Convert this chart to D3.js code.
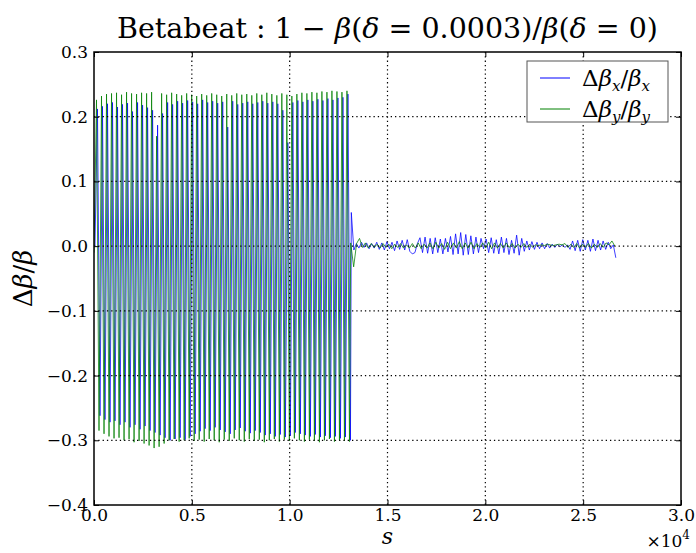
<!DOCTYPE html>
<html>
<head>
<meta charset="utf-8">
<script src="https://cdn.jsdelivr.net/npm/d3@7"></script>
<style>
  body { margin: 0; background: #fff; }
</style>
</head>
<body>
<script>
const width = 696;
const height = 553;
const serif = "DejaVu Serif";

// sampling grids (s in metres) for each segment
const blueBigStart = 50, greenBigStart = 0, bigStep = 128;
const blueSmallStart = 13150, blueSmallStep = 130;
const greenSmallStart = 13120, greenSmallStep = 150;

// large betabeat before s ~ 1.31e4: successive peaks and troughs
const blueStartValue = 0.0;
const bluePeaks = [
  0.212, 0.216, 0.220, 0.222, 0.215, 0.219, 0.221, 0.208, 0.222, 0.218,
  0.214, 0.210, 0.187, 0.205, 0.222, 0.219, 0.224, 0.221, 0.225, 0.223,
  0.220, 0.226, 0.222, 0.224, 0.221, 0.223, 0.184, 0.224, 0.219, 0.221,
  0.223, 0.220, 0.222, 0.224, 0.221, 0.223, 0.220, 0.210, 0.160, 0.222,
  0.225, 0.223, 0.226, 0.224, 0.227, 0.225, 0.228, 0.226, 0.229, 0.230, 0.235];
const blueTroughs = [
  -0.262, -0.268, -0.272, -0.270, -0.276, -0.272, -0.280, -0.276, -0.283, -0.278,
  -0.285, -0.288, -0.292, -0.296, -0.300, -0.298, -0.296, -0.299, -0.294, -0.290,
  -0.286, -0.282, -0.285, -0.280, -0.284, -0.287, -0.290, -0.284, -0.281, -0.286,
  -0.289, -0.285, -0.288, -0.292, -0.290, -0.294, -0.291, -0.295, -0.293, -0.288,
  -0.290, -0.292, -0.294, -0.291, -0.295, -0.293, -0.296, -0.294, -0.297, -0.295, -0.300];

const greenStartValue = -0.01;
const greenPeaks = [
  0.226, 0.232, 0.235, 0.236, 0.237, 0.234, 0.238, 0.236, 0.235, 0.237,
  0.236, 0.238, 0.170, 0.236, 0.234, 0.237, 0.235, 0.233, 0.236, 0.234,
  0.232, 0.235, 0.233, 0.236, 0.234, 0.232, 0.235, 0.233, 0.236, 0.234,
  0.235, 0.233, 0.236, 0.234, 0.237, 0.235, 0.233, 0.236, 0.234, 0.232,
  0.235, 0.237, 0.236, 0.238, 0.237, 0.239, 0.238, 0.240, 0.239, 0.238, 0.240];
const greenTroughs = [
  -0.285, -0.290, -0.294, -0.297, -0.296, -0.300, -0.298, -0.303, -0.301, -0.305,
  -0.308, -0.312, -0.310, -0.305, -0.300, -0.298, -0.302, -0.300, -0.297, -0.301,
  -0.299, -0.302, -0.298, -0.300, -0.303, -0.299, -0.301, -0.297, -0.300, -0.302,
  -0.298, -0.301, -0.299, -0.303, -0.300, -0.298, -0.302, -0.299, -0.301, -0.297,
  -0.300, -0.302, -0.299, -0.301, -0.303, -0.300, -0.298, -0.302, -0.300, -0.301, -0.302];

// small residual after s ~ 1.31e4
const blueSmall = [
  0.052, -0.006, 0.004, -0.003, 0.006, -0.002, 0.005, -0.004, 0.004, -0.003,
  0.006, -0.005, 0.005, -0.006, 0.007, -0.004, 0.006, -0.007, 0.008, -0.005,
  0.009, -0.006, 0.010, -0.008, -0.012, -0.010, 0.004, 0.013, -0.010, 0.014,
  -0.011, 0.012, -0.012, 0.013, -0.010, 0.011, -0.012, 0.012, -0.009, 0.015,
  -0.013, 0.019, -0.012, 0.021, -0.014, 0.018, -0.013, 0.016, -0.012, 0.014,
  -0.010, 0.012, -0.004, 0.011, -0.010, 0.013, -0.011, 0.010, -0.012, 0.014,
  -0.010, 0.012, -0.013, 0.009, -0.011, 0.017, -0.014, 0.012, -0.008, 0.008,
  -0.006, 0.007, -0.005, 0.006, -0.004, 0.005, -0.004, 0.004, -0.003, 0.003,
  -0.002, 0.003, -0.001, 0.002, -0.002, 0.002, -0.005, 0.008, -0.007, 0.009,
  -0.008, 0.010, -0.006, 0.009, -0.008, 0.011, -0.007, 0.009, -0.006, 0.008,
  -0.005, 0.006, -0.004, 0.002, -0.018];

const greenSmall = [
  0.005, -0.032, 0.004, 0.012, -0.002, 0.005, -0.003, 0.004, -0.002, 0.003,
  -0.003, 0.004, -0.002, 0.003, -0.004, 0.003, -0.002, 0.004, -0.003, 0.002,
  -0.003, 0.004, -0.003, 0.005, -0.004, 0.003, -0.003, 0.005, -0.004, 0.006,
  -0.003, 0.004, -0.005, 0.006, -0.004, 0.005, -0.003, 0.007, -0.004, 0.005,
  -0.003, 0.006, -0.004, 0.004, -0.002, 0.005, -0.003, 0.006, -0.004, 0.005,
  -0.003, 0.004, -0.003, 0.005, -0.002, 0.004, -0.003, 0.003, -0.002, 0.004,
  -0.002, 0.003, -0.002, 0.002, 0.001, 0.002, 0.001, 0.003, 0.002, 0.001,
  0.002, 0.003, 0.002, 0.004, -0.002, 0.003, -0.002, 0.004, -0.003, 0.003,
  -0.002, 0.004, -0.003, 0.003, -0.002, 0.004, -0.002, 0.005, 0.002, 0.008,
  0.0];

const xTicks = [0, 5000, 10000, 15000, 20000, 25000, 30000];
const yTicks = [-0.4, -0.3, -0.2, -0.1, 0.0, 0.1, 0.2, 0.3];

const bigPoints = (start, first, peaks, troughs) => {
  const pts = [[start, first]];
  peaks.forEach((p, k) => {
    pts.push([start + (2 * k + 1) * bigStep, p]);
    pts.push([start + (2 * k + 2) * bigStep, troughs[k]]);
  });
  return pts;
};
const smallPoints = (start, step, vals) => vals.map((v, i) => [start + i * step, v]);

const blueData = bigPoints(blueBigStart, blueStartValue, bluePeaks, blueTroughs)
  .concat(smallPoints(blueSmallStart, blueSmallStep, blueSmall));
const greenData = bigPoints(greenBigStart, greenStartValue, greenPeaks, greenTroughs)
  .concat(smallPoints(greenSmallStart, greenSmallStep, greenSmall));

const pLeft = 94, pRight = 681, pTop = 52, pBottom = 505;

const svg = d3.select("body").append("svg")
  .attr("width", width)
  .attr("height", height);

const x = d3.scaleLinear().domain([0, 30000]).range([pLeft, pRight]);
const y = d3.scaleLinear().domain([-0.4, 0.3]).range([pBottom, pTop]);

svg.append("clipPath").attr("id", "clip")
  .append("rect")
  .attr("x", pLeft).attr("y", pTop)
  .attr("width", pRight - pLeft).attr("height", pBottom - pTop);

const line = d3.line().x((d) => x(d[0])).y((d) => y(d[1]));

const plot = svg.append("g").attr("clip-path", "url(#clip)");
plot.append("path").datum(blueData)
  .attr("d", line).attr("fill", "none")
  .attr("stroke", "#0000ff").attr("stroke-width", 0.9).attr("stroke-opacity", 0.85);
plot.append("path").datum(greenData)
  .attr("d", line).attr("fill", "none")
  .attr("stroke", "#008000").attr("stroke-width", 0.9).attr("stroke-opacity", 0.85);

// dotted grid on top of the data
const grid = svg.append("g");
grid.selectAll("line.gx").data(xTicks.slice(1, -1)).enter().append("line")
  .attr("class", "gx")
  .attr("x1", (d) => x(d)).attr("x2", (d) => x(d))
  .attr("y1", pTop).attr("y2", pBottom);
grid.selectAll("line.gy").data(yTicks.slice(1, -1)).enter().append("line")
  .attr("class", "gy")
  .attr("y1", (d) => y(d)).attr("y2", (d) => y(d))
  .attr("x1", pLeft).attr("x2", pRight);
grid.selectAll("line")
  .attr("stroke", "#000").attr("stroke-width", 1.2)
  .attr("stroke-dasharray", "1.3,3");

// axes with inward ticks on all sides
const fmtX = (d) => d3.format(".1f")(d / 1e4);
const fmtY = d3.format(".1f");

const styleAxis = (g) => {
  g.attr("font-family", null);
  g.select(".domain").remove();
  g.selectAll(".tick line").attr("stroke", "#000").attr("stroke-width", 1);
  g.selectAll(".tick text")
    .attr("fill", "#000")
    .attr("font-family", serif)
    .attr("font-size", 17);
};

svg.append("g").attr("transform", `translate(0,${pBottom})`)
  .call(d3.axisBottom(x).tickValues(xTicks).tickFormat(fmtX).tickSizeInner(-5).tickSizeOuter(0).tickPadding(4))
  .call(styleAxis);
svg.append("g").attr("transform", `translate(0,${pTop})`)
  .call(d3.axisTop(x).tickValues(xTicks).tickFormat("").tickSizeInner(-5).tickSizeOuter(0))
  .call(styleAxis);
svg.append("g").attr("transform", `translate(${pLeft},0)`)
  .call(d3.axisLeft(y).tickValues(yTicks).tickFormat(fmtY).tickSizeInner(-5).tickSizeOuter(0).tickPadding(6))
  .call(styleAxis);
svg.append("g").attr("transform", `translate(${pRight},0)`)
  .call(d3.axisRight(y).tickValues(yTicks).tickFormat("").tickSizeInner(-5).tickSizeOuter(0))
  .call(styleAxis);

// frame
svg.append("rect")
  .attr("x", pLeft).attr("y", pTop)
  .attr("width", pRight - pLeft).attr("height", pBottom - pTop)
  .attr("fill", "none").attr("stroke", "#000").attr("stroke-width", 1.5);

// title
const title = svg.append("text")
  .attr("x", (pLeft + pRight) / 2).attr("y", 38)
  .attr("text-anchor", "middle")
  .attr("font-family", serif)
  .attr("font-size", 28.5);
title.append("tspan").text("Betabeat : 1 − ");
title.append("tspan").attr("font-style", "italic").text("β");
title.append("tspan").text("(");
title.append("tspan").attr("font-style", "italic").text("δ");
title.append("tspan").text(" = 0.0003)/");
title.append("tspan").attr("font-style", "italic").text("β");
title.append("tspan").text("(");
title.append("tspan").attr("font-style", "italic").text("δ");
title.append("tspan").text(" = 0)");

// axis labels
svg.append("text")
  .attr("x", (pLeft + pRight) / 2).attr("y", 544)
  .attr("text-anchor", "middle")
  .attr("font-family", serif)
  .attr("font-style", "italic")
  .attr("font-size", 22)
  .text("s");

const off = svg.append("text")
  .attr("x", 690).attr("y", 547)
  .attr("text-anchor", "end")
  .attr("font-family", serif)
  .attr("font-size", 17);
off.append("tspan").text("×10");
off.append("tspan").attr("dy", -8).attr("font-size", 12).text("4");

const yl = svg.append("text")
  .attr("transform", `translate(32,${(pTop + pBottom) / 2}) rotate(-90)`)
  .attr("text-anchor", "middle")
  .attr("font-family", serif)
  .attr("font-size", 26);
yl.append("tspan").text("Δ");
yl.append("tspan").attr("font-style", "italic").text("β");
yl.append("tspan").text("/");
yl.append("tspan").attr("font-style", "italic").text("β");

// legend
const legend = svg.append("g");
legend.append("rect")
  .attr("x", 527).attr("y", 61).attr("width", 141).attr("height", 61)
  .attr("fill", "#fff").attr("stroke", "#555").attr("stroke-width", 1);

const legendItems = [
  { color: "#0000ff", sub: "x" },
  { color: "#008000", sub: "y" }
];
legendItems.forEach((it, i) => {
  const ly = 78 + i * 31;
  legend.append("line")
    .attr("x1", 540).attr("x2", 570).attr("y1", ly).attr("y2", ly)
    .attr("stroke", it.color).attr("stroke-width", 1);
  const t = legend.append("text")
    .attr("x", 582).attr("y", ly + 8)
    .attr("font-family", serif)
    .attr("font-size", 23);
  t.append("tspan").text("Δ");
  t.append("tspan").attr("font-style", "italic").text("β");
  t.append("tspan").attr("font-style", "italic").attr("dy", 5).attr("font-size", 15).text(it.sub);
  t.append("tspan").attr("dy", -5).text("/");
  t.append("tspan").attr("font-style", "italic").text("β");
  t.append("tspan").attr("font-style", "italic").attr("dy", 5).attr("font-size", 15).text(it.sub);
});
</script>
</body>
</html>
